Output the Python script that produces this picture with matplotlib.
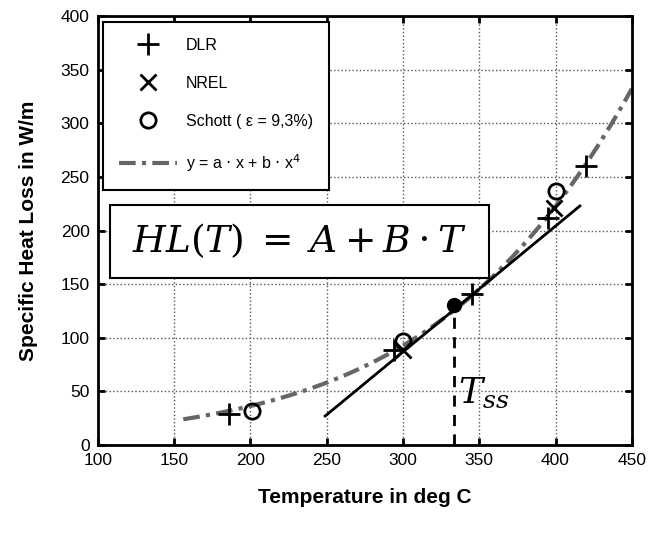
import matplotlib
matplotlib.use("Agg")
import numpy as np
import matplotlib.pyplot as plt
from matplotlib.lines import Line2D
from matplotlib.patches import Rectangle

plt.rcParams["font.family"] = ["Liberation Sans", "DejaVu Sans"]

# measured heat loss data (deg C, W/m)
dlr_t = [186, 294, 345, 395, 420]
dlr_hl = [29, 89, 141, 212, 260]
nrel_t = [300, 399]
nrel_hl = [89, 221]
schott_t = [201, 300, 400]
schott_hl = [32, 97, 237]

# fit y = a*x + b*x^4
fit_a = 0.128
fit_b = 6.7e-9
fit_range = [156, 450]

# linearisation at steady state temperature
t_ss = 333.5
hl_ss = 131
tangent_t = [249, 416]
tangent_hl = [27, 223]

xticks = [100, 150, 200, 250, 300, 350, 400, 450]
yticks = [0, 50, 100, 150, 200, 250, 300, 350, 400]

fig = plt.figure(figsize=(6.48, 5.34), dpi=100)
ax = fig.add_axes([0.151, 0.1667, 0.824, 0.803])

fit_t = np.linspace(fit_range[0], fit_range[1], 200)
fit_hl = fit_a * fit_t + fit_b * fit_t ** 4
ax.plot(fit_t, fit_hl, color="#666666", lw=3, ls=(0, (4, 1.5, 1, 1.5)), zorder=2)

ax.plot(tangent_t, tangent_hl, color="black", lw=2, zorder=3)
ax.plot([t_ss, t_ss], [0, hl_ss], color="black", lw=2, ls=(0, (4, 3)), zorder=3)
ax.plot(t_ss, hl_ss, "o", color="black", ms=10, zorder=4)

ax.plot(dlr_t, dlr_hl, "+", color="black", ms=16, mew=2, ls="none", zorder=4)
ax.plot(nrel_t, nrel_hl, "x", color="black", ms=11, mew=2, ls="none", zorder=4)
ax.plot(schott_t, schott_hl, "o", mfc="none", mec="black", ms=11, mew=2, ls="none", zorder=4)

ax.set_xlim(100, 450)
ax.set_ylim(0, 400)
ax.set_xticks(xticks)
ax.set_yticks(yticks)
ax.tick_params(direction="in", length=5, width=2, top=True, right=True, labelsize=12.5, pad=6)
ax.grid(True, ls=":", lw=1, color="#555555")
for s in ax.spines.values():
    s.set_linewidth(2)

ax.set_xlabel("Temperature in deg C", fontsize=15, fontweight="bold", labelpad=14)
ax.set_ylabel("Specific Heat Loss in W/m", fontsize=15, fontweight="bold", labelpad=16)

handles = [
    Line2D([], [], marker="+", color="black", ms=16, mew=2, ls="none"),
    Line2D([], [], marker="x", color="black", ms=11, mew=2, ls="none"),
    Line2D([], [], marker="o", mfc="none", mec="black", ms=11, mew=2, ls="none"),
    Line2D([], [], color="#666666", lw=3, ls=(0, (4, 1.5, 1, 1.5))),
]
labels = ["DLR", "NREL", "Schott ( \u03b5 = 9,3%)", r"y = a $\cdot$ x + b $\cdot$ x$^4$"]
leg = ax.legend(handles, labels, loc="upper left", bbox_to_anchor=(0.01, 0.987),
                fontsize=11.5, frameon=True, fancybox=False, edgecolor="black",
                framealpha=1, handlelength=3.6, handletextpad=0.6,
                labelspacing=1.45, borderpad=1.0, borderaxespad=0)
leg.get_frame().set_linewidth(1.5)

box = Rectangle((0.023, 0.39), 0.71, 0.17, transform=ax.transAxes,
                facecolor="white", edgecolor="black", lw=1.5, zorder=5)
ax.add_patch(box)
ax.text(0.378, 0.475, r"$HL(T)\;=\;A+B\cdot T$", transform=ax.transAxes,
        ha="center", va="center", fontsize=27, math_fontfamily="dejavuserif", zorder=6)

ax.text(336, 48, r"$T_{ss}$", ha="left", va="center", fontsize=26,
        math_fontfamily="dejavuserif", zorder=6)

fig.savefig("out.png", dpi=100)
